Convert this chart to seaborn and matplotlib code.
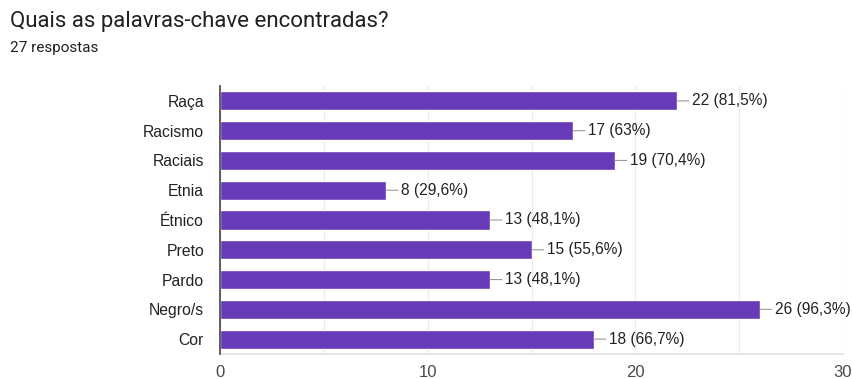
import matplotlib
matplotlib.use("Agg")
import matplotlib.pyplot as plt
import seaborn as sns
import pandas as pd

categories = ["Raça", "Racismo", "Raciais", "Etnia", "Étnico", "Preto", "Pardo", "Negro/s", "Cor"]
counts = [22, 17, 19, 8, 13, 15, 13, 26, 18]
percent_labels = ["81,5%", "63%", "70,4%", "29,6%", "48,1%", "55,6%", "48,1%", "96,3%", "66,7%"]
x_ticks = [0, 10, 20, 30]
total_responses = 27

df = pd.DataFrame({"palavra": categories, "n": counts})

sns.set_theme(style="white")
plt.rcParams["font.family"] = ["Liberation Sans", "DejaVu Sans"]

fig = plt.figure(figsize=(8.53, 3.79), dpi=100)
ax = fig.add_axes([220 / 853, 1 - 354 / 379, 623 / 853, 268 / 379])

sns.barplot(data=df, y="palavra", x="n", orient="h", color="#673ab7",
            saturation=1, width=0.64, ax=ax, zorder=3)

ax.set_xlim(0, 30)
ax.set_xticks(x_ticks)
ax.set_xticks(range(0, 31, 5), minor=True)
ax.grid(axis="x", which="both", color="#ebebeb", linewidth=1, zorder=0)
ax.set_axisbelow(True)
ax.set_xlabel("")
ax.set_ylabel("")

for side in ["top", "right"]:
    ax.spines[side].set_visible(False)
ax.spines["bottom"].set_color("#e3e3e3")
ax.spines["left"].set_color("#444444")
ax.spines["left"].set_linewidth(1.2)
ax.spines["left"].set_zorder(5)

ax.tick_params(axis="x", which="both", length=0, labelsize=12, colors="#4a4a4a", pad=8)
ax.tick_params(axis="y", length=0, labelsize=11.3, colors="#222222", pad=11.5)

for i, (v, p) in enumerate(zip(counts, percent_labels)):
    ax.annotate(f"{v} ({p})", xy=(v, i), xytext=(11, 0), textcoords="offset points",
                ha="left", va="center", fontsize=11.2, color="#222222",
                arrowprops=dict(arrowstyle="-", color="#999999", lw=0.8,
                                shrinkA=0, shrinkB=0, relpos=(0, 0.5)),
                zorder=4, annotation_clip=False)

fig.text(10 / 853, 1 - 22 / 379, "Quais as palavras-chave encontradas?",
         fontsize=16, color="#202124", va="center", ha="left",
         family=["Roboto", "DejaVu Sans"])
fig.text(10 / 853, 1 - 48 / 379, f"{total_responses} respostas",
         fontsize=11, color="#202124", va="center", ha="left",
         family=["Roboto", "DejaVu Sans"])

fig.savefig("out.png", dpi=100)
